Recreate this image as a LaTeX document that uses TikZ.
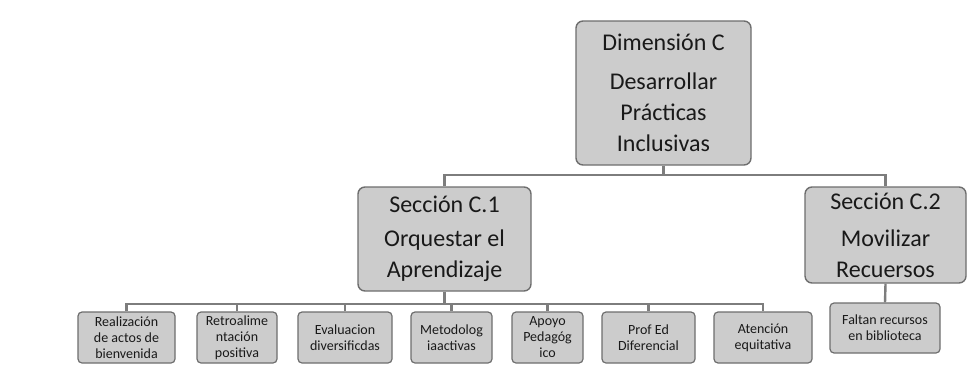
\documentclass[tikz,border=0pt]{standalone}
\usepackage{fontspec}
\setmainfont{Carlito}
\begin{document}
\begin{tikzpicture}[x=1pt,y=-1pt,
  box/.style={draw={rgb,255:red,110;green,110;blue,110}, line width=1.4pt,
    fill={rgb,255:red,204;green,204;blue,204}, rounded corners=7pt,
    align=center, inner sep=0pt, text={rgb,255:red,25;green,25;blue,25}},
  bigbox/.style={box, font=\fontsize{24}{31}\selectfont},
  leaf/.style={box, rounded corners=4pt, line width=1.2pt, minimum height=51pt,
    font=\fontsize{14}{16}\selectfont},
  conn/.style={draw={rgb,255:red,125;green,125;blue,125}, line width=2.4pt}]
\useasboundingbox (0,0) rectangle (973,367);
\fill[white] (0,0) rectangle (973,367);
\coordinate (b1) at (0,175);
\coordinate (b2) at (0,304);
\node[bigbox, minimum width=175pt, minimum height=144pt] (top) at (663.5,93) {Dimensión C\\[8pt]Desarrollar\\Prácticas\\Inclusivas};
\node[bigbox, minimum width=173pt, minimum height=104pt] (c1) at (444.5,239) {Sección C.1\\[3pt]Orquestar el\\Aprendizaje};
\node[bigbox, minimum width=161pt, minimum height=96pt] (c2) at (885.5,235) {Sección C.2\\[6pt]Movilizar\\Recuersos};
\node[leaf, minimum width=97pt] (l1) at (126.5,337.5) {Realización\\de actos de\\bienvenida};
\node[leaf, minimum width=80pt] (l2) at (237,337.5) {Retroalime\\ntación\\positiva};
\node[leaf, minimum width=94pt] (l3) at (345,337.5) {Evaluacion\\diversificdas};
\node[leaf, minimum width=81pt] (l4) at (451.5,337.5) {Metodolog\\iaactivas};
\node[leaf, minimum width=71pt] (l5) at (547.5,337.5) {Apoyo\\Pedagóg\\ico};
\node[leaf, minimum width=93pt] (l6) at (648.5,337.5) {Prof Ed\\Diferencial};
\node[leaf, minimum width=98pt] (l7) at (763,337.5) {Atención\\equitativa};
\node[leaf, minimum width=110pt, minimum height=50pt] (l8) at (885,328) {Faltan recursos\\en biblioteca};
\draw[conn] (top.south) -- (top.south |- b1);
\draw[conn] (c1.north) -- (c1.north |- b1) -- (c2.north |- b1) -- (c2.north);
\draw[conn] (c1.south) -- (c1.south |- b2);
\draw[conn] (l1.north) -- (l1.north |- b2) -- (l7.north |- b2) -- (l7.north);
\foreach \n in {l2,l3,l4,l5,l6} \draw[conn] (\n.north) -- (\n.north |- b2);
\draw[conn] (c2.south) -- (l8.north);
\end{tikzpicture}
\end{document}
